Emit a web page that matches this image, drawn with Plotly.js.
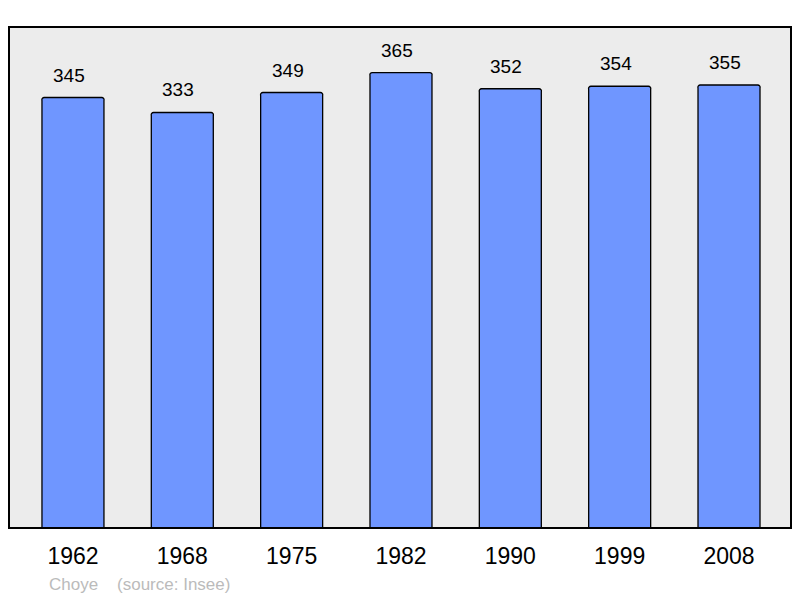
<!DOCTYPE html>
<html>
<head>
<meta charset="utf-8">
<script src="https://cdn.plot.ly/plotly-3.0.1.min.js"></script>
<style>html,body{margin:0;padding:0;background:#fff;}</style>
</head>
<body>
<div id="chart" style="width:800px;height:598px;"></div>
<script>
const years = ["1962", "1968", "1975", "1982", "1990", "1999", "2008"];
const population = [345, 333, 349, 365, 352, 354, 355];
const footerName = "Choye";
const footerSource = "(source: Insee)";

const annotations = years.map((y, i) => ({
  x: i, y: population[i], xref: "x", yref: "y",
  text: String(population[i]), showarrow: false,
  yanchor: "bottom", yshift: 10, xshift: -4,
  font: {family: "Liberation Sans, Arial, sans-serif", size: 19, color: "#000"}
}));
annotations.push({
  xref: "paper", yref: "paper", x: 0.049, y: -0.112, xanchor: "left", yanchor: "middle",
  text: footerName + "&nbsp;&nbsp;&nbsp;&nbsp;" + footerSource, showarrow: false,
  font: {family: "Liberation Sans, Arial, sans-serif", size: 17, color: "#bbbbbb"}
});

const trace = {
  type: "bar", x: years, y: population,
  width: 0.567,
  marker: {color: "#6f96ff", line: {color: "#000", width: 1.3}, cornerradius: 3},
  hoverinfo: "none"
};

const layout = {
  width: 800, height: 598,
  margin: {l: 9, r: 9, t: 27, b: 70},
  paper_bgcolor: "#fff", plot_bgcolor: "#ececec",
  showlegend: false,
  bargap: 0,
  xaxis: {type: "category", range: [-0.585, 6.567], showgrid: false, zeroline: false,
          showline: false, ticks: "", ticklabelstandoff: 12,
          tickfont: {family: "Liberation Sans, Arial, sans-serif", size: 23, color: "#000"}},
  yaxis: {range: [0, 401.5], showgrid: false, zeroline: false, showticklabels: false, ticks: "", showline: false},
  shapes: [{type: "rect", xref: "paper", yref: "paper", x0: 0, x1: 1, y0: 0, y1: 1,
            line: {color: "#000", width: 2}, layer: "above"}],
  annotations: annotations
};
Plotly.newPlot("chart", [trace], layout, {staticPlot: true, displayModeBar: false});
</script>
</body>
</html>
